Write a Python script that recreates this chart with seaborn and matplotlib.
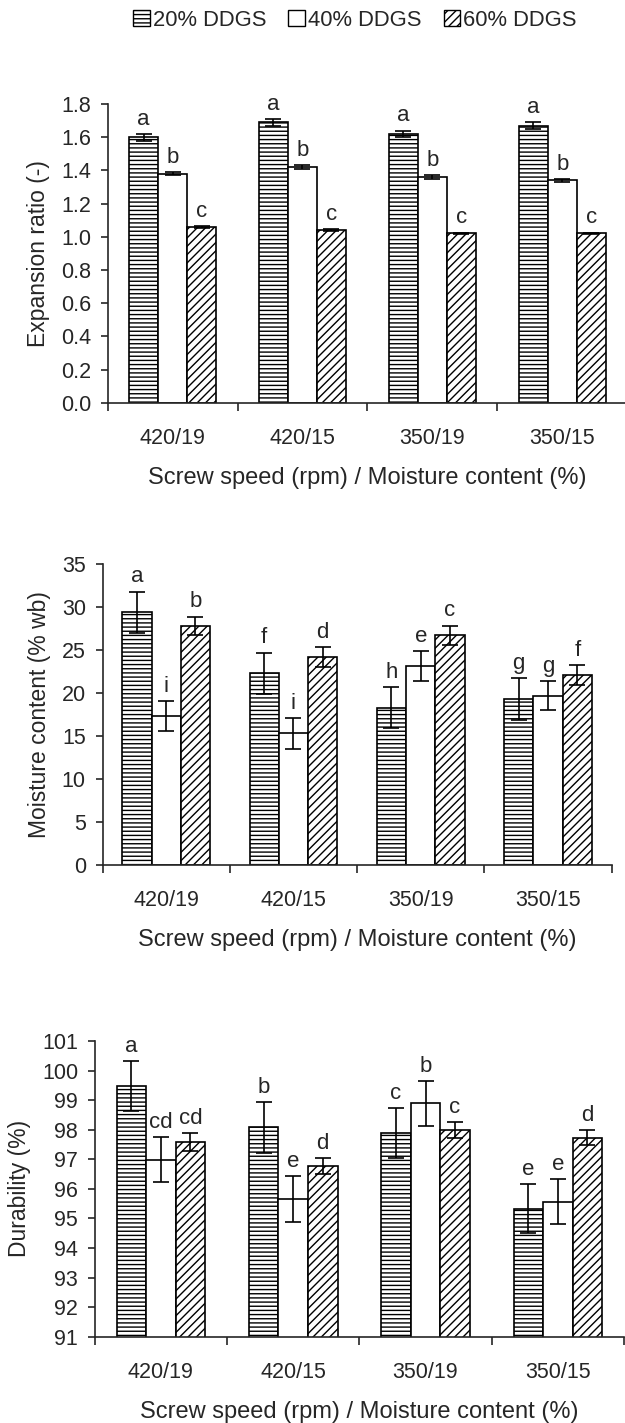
import numpy as np
import pandas as pd
import matplotlib
matplotlib.use("Agg")
import matplotlib.pyplot as plt
import seaborn as sns
from matplotlib.patches import Patch
from matplotlib.ticker import FormatStrFormatter

# categories
conditions = ["420/19", "420/15", "350/19", "350/15"]
levels = ["20% DDGS", "40% DDGS", "60% DDGS"]
XLABEL = "Screw speed (rpm) / Moisture content (%)"

# expansion ratio
er_20 = [1.60, 1.69, 1.62, 1.67]
er_40 = [1.38, 1.42, 1.36, 1.34]
er_60 = [1.06, 1.04, 1.02, 1.02]
er_err_20 = [0.02, 0.02, 0.02, 0.02]
er_err_40 = [0.01, 0.01, 0.01, 0.01]
er_err_60 = [0.005, 0.005, 0.005, 0.005]
er_let_20 = ["a", "a", "a", "a"]
er_let_40 = ["b", "b", "b", "b"]
er_let_60 = ["c", "c", "c", "c"]

# moisture content
mc_20 = [29.4, 22.3, 18.3, 19.3]
mc_40 = [17.3, 15.3, 23.1, 19.7]
mc_60 = [27.8, 24.2, 26.7, 22.1]
mc_err_20 = [2.4, 2.4, 2.4, 2.4]
mc_err_40 = [1.75, 1.75, 1.75, 1.7]
mc_err_60 = [1.1, 1.15, 1.15, 1.2]
mc_let_20 = ["a", "f", "h", "g"]
mc_let_40 = ["i", "i", "e", "g"]
mc_let_60 = ["b", "d", "c", "f"]

# durability
du_20 = [99.48, 98.08, 97.88, 95.33]
du_40 = [96.98, 95.66, 98.89, 95.57]
du_60 = [97.58, 96.77, 97.99, 97.73]
du_err_20 = [0.85, 0.87, 0.85, 0.82]
du_err_40 = [0.76, 0.78, 0.76, 0.76]
du_err_60 = [0.3, 0.28, 0.26, 0.26]
du_let_20 = ["a", "b", "c", "e"]
du_let_40 = ["cd", "e", "b", "e"]
du_let_60 = ["cd", "d", "c", "d"]

HATCHES = ["----", "", "////"]

sns.set_theme(style="ticks")
plt.rcParams["font.family"] = ["Liberation Sans", "DejaVu Sans"]
plt.rcParams["hatch.linewidth"] = 1.0
plt.rcParams["axes.linewidth"] = 1.2


def draw_panel(ax, values, errors, letters, ylim, yticks, ylabel, fmt=None, width=0.67):
    df = pd.DataFrame({
        "condition": conditions * 3,
        "level": [lv for lv in levels for _ in conditions],
        "value": [v for vals in values for v in vals],
    })
    sns.barplot(data=df, x="condition", y="value", hue="level",
                order=conditions, hue_order=levels,
                palette={lv: "white" for lv in levels}, saturation=1,
                edgecolor="black", linewidth=1.2, width=width,
                errorbar=None, legend=False, ax=ax)

    for cont, hatch, vals, errs, lets in zip(ax.containers, HATCHES, values, errors, letters):
        for bar, v, e, lt in zip(cont, vals, errs, lets):
            bar.set_hatch(hatch)
            x = bar.get_x() + bar.get_width() / 2
            ax.errorbar(x, v, yerr=e, color="black", capsize=5.5,
                        elinewidth=1.2, capthick=1.2, zorder=4)
            ax.annotate(lt, (x, v + e), xytext=(0, 3), textcoords="offset points",
                        ha="center", va="bottom", fontsize=16)

    ax.set_xlim(-0.5, 3.5)
    ax.set_ylim(*ylim)
    ax.set_yticks(yticks)
    if fmt:
        ax.yaxis.set_major_formatter(FormatStrFormatter(fmt))
    ax.set_xticks(range(len(conditions)))
    ax.set_xticklabels(conditions)
    ax.set_xticks(np.arange(-0.5, len(conditions), 1), minor=True)
    ax.tick_params(axis="x", which="major", length=0, pad=18, labelsize=15.5)
    ax.tick_params(axis="x", which="minor", length=6, width=1.2, direction="out")
    ax.tick_params(axis="y", length=5, width=1.2, pad=7, labelsize=15.5)
    ax.spines[["top", "right"]].set_visible(False)
    ax.set_xlabel(XLABEL, fontsize=17, labelpad=13)
    ax.set_ylabel(ylabel, fontsize=16.5, labelpad=8)


fig = plt.figure(figsize=(6.25, 14.23), dpi=100)
ax1 = fig.add_axes([0.1722, 0.7170, 0.8314, 0.2099])
ax2 = fig.add_axes([0.1640, 0.3921, 0.8147, 0.2115])
ax3 = fig.add_axes([0.1515, 0.0606, 0.8469, 0.2078])

draw_panel(ax1, [er_20, er_40, er_60], [er_err_20, er_err_40, er_err_60],
           [er_let_20, er_let_40, er_let_60], (0, 1.8), np.arange(0, 1.81, 0.2),
           "Expansion ratio (-)", fmt="%.1f")
draw_panel(ax2, [mc_20, mc_40, mc_60], [mc_err_20, mc_err_40, mc_err_60],
           [mc_let_20, mc_let_40, mc_let_60], (0, 35), np.arange(0, 36, 5),
           "Moisture content (% wb)", width=0.69)
draw_panel(ax3, [du_20, du_40, du_60], [du_err_20, du_err_40, du_err_60],
           [du_let_20, du_let_40, du_let_60], (91, 101), np.arange(91, 102, 1),
           "Durability (%)")

handles = [Patch(facecolor="white", edgecolor="black", hatch=h, linewidth=1.0) for h in HATCHES]
fig.legend(handles, levels, loc="center", bbox_to_anchor=(355 / 625, 1 - 20 / 1423),
           ncol=3, frameon=False, fontsize=15.8, handlelength=0.75, handleheight=0.75,
           handletextpad=0.15, columnspacing=1.0, borderpad=0)

fig.savefig("out.png", dpi=100)
